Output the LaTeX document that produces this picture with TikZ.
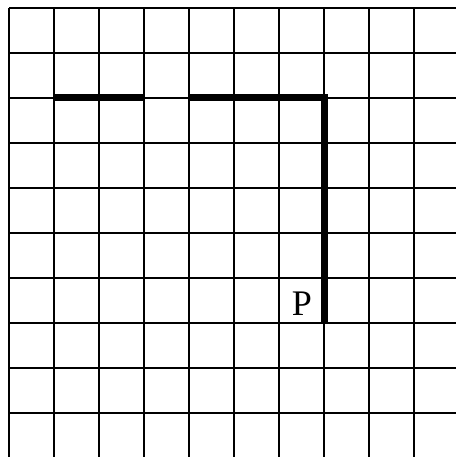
\documentclass[tikz,border=0pt]{standalone}
\usepackage{fontspec}
\setmainfont{Liberation Serif}
\begin{document}
\begin{tikzpicture}[x=1pt,y=-1pt,
  gridline/.style={line width=1.1pt,black},
  thickpath/.style={line width=7pt,black},
  lbl/.style={font=\fontsize{36}{36}\selectfont,inner sep=0pt}]
\useasboundingbox (0,0) rectangle (456,457);
\foreach \i in {0,...,9} {
  \draw[gridline] ({9+45*\i},8) -- ({9+45*\i},457);
  \draw[gridline] (9,{8+45*\i}) -- (456,{8+45*\i});
}
\draw[thickpath] (54,98) -- (144,98);
\draw[thickpath] (189,98) -- (324.5,98) -- (324.5,323);
\node[lbl] (p) at (302,304) {P};
\end{tikzpicture}
\end{document}
